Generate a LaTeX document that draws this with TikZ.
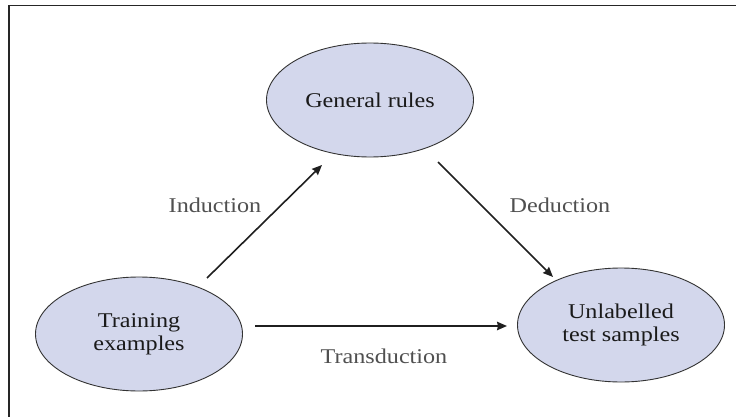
\documentclass[tikz,border=0pt]{standalone}
\usepackage{fontspec}
\setmainfont{Liberation Serif}[FakeStretch=1.15]
\usetikzlibrary{arrows.meta,calc,shapes.geometric}
\definecolor{ellfill}{HTML}{D3D7EC}
\definecolor{ellline}{HTML}{333333}
\definecolor{lblgray}{HTML}{505050}
\definecolor{txtdark}{HTML}{1A1A1A}
\tikzset{
  ell/.style={ellipse, draw=ellline, line width=0.9pt, fill=ellfill,
    minimum width=207pt, minimum height=114pt, inner sep=0pt,
    align=center, text=txtdark, font=\fontsize{21}{23}\selectfont},
  lbl/.style={text=lblgray, font=\fontsize{21}{23}\selectfont, inner sep=0pt},
  arr/.style={draw=black!88, line width=1.6pt, -{Stealth[length=10pt,width=8.5pt,inset=1pt]}},
  framel/.style={draw=black!85, line width=1.3pt}
}
\begin{document}
\begin{tikzpicture}[x=1pt,y=-1pt]
\useasboundingbox (0,0) rectangle (736,417);
\fill[white] (0,0) rectangle (736,417);
\coordinate (fc) at (9,5.5);
\coordinate (fr) at (736,5.5);
\coordinate (fb) at (9,417);
\draw[framel] (fr) -- (fc) -- (fb);
\node[ell] (gr) at (370,100) {General rules};
\node[ell] (tr) at (139,334) {Training\\examples};
\node[ell] (ut) at (621,325) {Unlabelled\\test samples};
\draw[arr] ($(tr)+(68,-56)$) -- ($(gr)+(-48,65)$);
\draw[arr] ($(gr)+(68,62)$) -- ($(ut)+(-68,-48)$);
\draw[arr] ($(tr)+(116,-8)$) -- ($(ut)+(-114,1)$);
\node[lbl] (ind) at (215,205) {Induction};
\node[lbl] (ded) at (560,205) {Deduction};
\node[lbl] (tra) at (384,356) {Transduction};
\end{tikzpicture}
\end{document}
